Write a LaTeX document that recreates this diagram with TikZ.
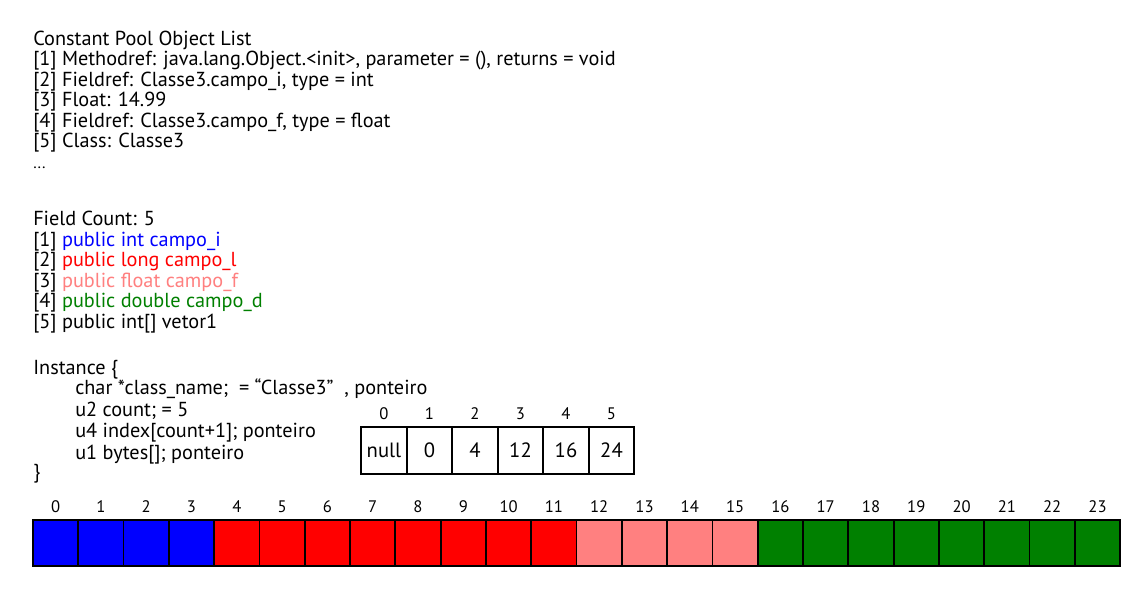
\documentclass[tikz,border=0pt]{standalone}
\usepackage{fontspec}
\setmainfont{PT Sans}
\usetikzlibrary{positioning}

\definecolor{cpi}{RGB}{0,0,255}
\definecolor{cpl}{RGB}{255,0,0}
\definecolor{cpf}{RGB}{255,128,128}
\definecolor{cpd}{RGB}{0,128,0}

\tikzset{
  line/.style={anchor=base west, inner sep=0pt, font=\fontsize{15.2}{17}\selectfont},
  byte/.style={draw=black, line width=1.3pt, minimum width=33.9pt, minimum height=34.5pt, inner sep=0pt},
  slot/.style={draw=black, line width=1.3pt, minimum width=34.1pt, minimum height=35pt, inner sep=0pt,
    font=\fontsize{15.5}{17}\selectfont},
  num/.style={inner sep=0pt, font=\fontsize{12.5}{14}\selectfont}
}

\begin{document}
\begin{tikzpicture}[x=0.75pt,y=-0.75pt]
  \useasboundingbox[fill=white] (0,0) rectangle (1131,600);

  %%%%%%%%%%%%%Constant pool%%%%%%%%%%%%%%%%%%%%%%
  \node[line] (cp0) at (33,45) {Constant Pool Object List};
  \node[line] (cp1) at (33,65.5) {[1] Methodref: java.lang.Object.<init>, parameter = (), returns = void};
  \node[line] (cp2) at (33,86) {[2] Fieldref: Classe3.campo\_i, type = int};
  \node[line] (cp3) at (33,106.5) {[3] Float: 14.99};
  \node[line] (cp4) at (33,127) {[4] Fieldref: Classe3.campo\_f, type = float};
  \node[line] (cp5) at (33,147.5) {[5] Class: Classe3};
  \node[line, font=\fontsize{12}{14}\selectfont] (cp6) at (33,168) {...};

  %%%%%%%%%%%%%Fields%%%%%%%%%%%%%%%%%%%%%%
  \node[line] (fc) at (33,225) {Field Count: 5};
  \node[line] (f1) at (33,246) {[1] \textcolor{cpi}{public int campo\_i}};
  \node[line] (f2) at (33,266.5) {[2] \textcolor{cpl}{public long campo\_l}};
  \node[line] (f3) at (33,287) {[3] \textcolor{cpf}{public float campo\_f}};
  \node[line] (f4) at (33,307.5) {[4] \textcolor{cpd}{public double campo\_d}};
  \node[line] (f5) at (33,328) {[5] public int[] vetor1};

  %%%%%%%%%%%%%Instance%%%%%%%%%%%%%%%%%%%%%%
  \node[line] (in0) at (33,374) {Instance \{};
  \node[line] (in1) at (75,394.5) {char *class\_name;\ \ = “Classe3”\ \ , ponteiro};
  \node[line] (in2) at (75,416) {u2 count; = 5};
  \node[line] (in3) at (75,437.5) {u4 index[count+1]; ponteiro};
  \node[line] (in4) at (75,459) {u1 bytes[]; ponteiro};
  \node[line] (in5) at (33,478) {\}};

  %%%%%%%%%%%%%index array%%%%%%%%%%%%%%%%%%%%%%
  \foreach \v [count=\n from 0] in {null,0,4,12,16,24} {
    \node[slot] (s\n) at (384+45.5*\n,450.5) {\v};
    \node[num, above=5pt of s\n] (sl\n) {\n};
  }

  %%%%%%%%%%%%%bytes%%%%%%%%%%%%%%%%%%%%%%
  \foreach \c [count=\n from 0] in {cpi,cpi,cpi,cpi,cpl,cpl,cpl,cpl,cpl,cpl,cpl,cpl,
                                    cpf,cpf,cpf,cpf,cpd,cpd,cpd,cpd,cpd,cpd,cpd,cpd} {
    \node[byte, fill=\c] (b\n) at (55.6+45.3*\n,543) {};
    \node[num, above=5pt of b\n] (bl\n) {\n};
  }
\end{tikzpicture}
\end{document}
